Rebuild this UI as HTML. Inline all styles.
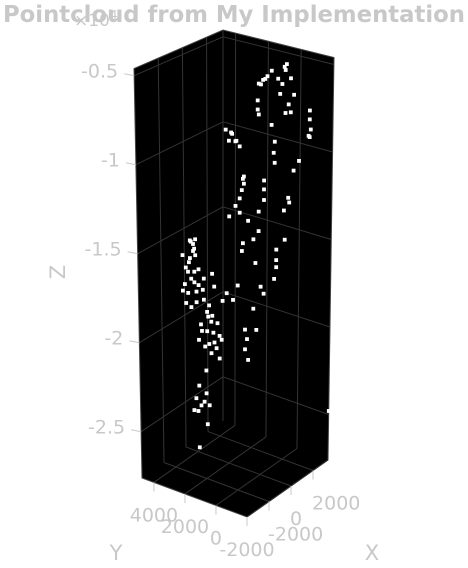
<!DOCTYPE html>
<html><head><meta charset="utf-8"><style>
html,body{margin:0;padding:0;background:#fff;width:468px;height:568px;overflow:hidden}
svg{display:block}
text{font-family:"DejaVu Sans","Liberation Sans",sans-serif;fill:#c8c8c8}
</style></head><body>
<svg id="chart" width="468" height="568" viewBox="0 0 468 568" xmlns="http://www.w3.org/2000/svg">
<text x="74" y="26" font-size="17">×10<tspan font-size="12" dy="-7">4</tspan></text>
<text x="234" y="22" text-anchor="middle" font-size="23" font-weight="bold" textLength="462" lengthAdjust="spacingAndGlyphs">Pointcloud from My Implementation</text>
<g id="box"></g><g id="grid"></g><g id="pts"></g><g id="axes"></g>
<text x="372" y="560" text-anchor="middle" font-size="21">X</text>
<text x="116" y="560" text-anchor="middle" font-size="21">Y</text>
<text x="0" y="0" text-anchor="middle" font-size="21" transform="translate(65,272) rotate(-90)">Z</text>
</svg>
<script>
const xTicks=[-2000,0,2000];
const yTicks=[-2000,0,2000,4000];
const zTicks=[-0.5,-1,-1.5,-2,-2.5];
const zTickLabels=["-0.5","-1","-1.5","-2","-2.5"];
const xLim=[-4000,3360], yLim=[-2000,4770], zLim=[-2.76,-0.46];
// point cloud data
const ptX=[-818,-727,-1909,-2273,-2636,-3000,-1364,-1000,-273,0,-455,-1182,-727,-273,-3091,-3091,-3000,1363,1363,1454,1363,-1909,1272,3363,-636,-2455,-2818,
-2091,-2727,-2455,-1818,-3000,1091,1182,1182,-1455,273,273,-1636,-1818,-2182,2364,2455,2000,-182,273,-2727,-1091,-182,-1545,1364,2091,1364,1364,-1636,-455,1182,0,273,-636,-1364,-364,-1182,-1364,-1091,-2000,3273,2818,-1455,-1818,-636,-2545,-2182,-1545,
-1500,-1682,-1500,-1955,-2318,-1227,-1864,-2409,-1227,-45,136,-2136,-773,-2318,-1864,-318,864,-45,-1045,-136,409,-500,591,-1227,-318,318,591,-136,-591,-1227,-591,-1500,-1045,-318,-1318,-500,-2591,1773,1227,-1227,-1864,-1591,-2045,-1591,-773,-1409,-500,-955,136,
-1955,-1682,-2136,-1591,-2591,-1409,-864,-409,45,-682,773,-773,-1682];
const ptY=[-2000,-2000,-2000,-2000,-2000,-2000,-2000,-2000,-2000,-2000,-2000,-2000,-2000,-2000,-2000,-2000,-2000,-2000,-2000,-2000,-2000,-2000,-2000,-2000,-2000,-2000,-2000,
0,0,0,0,0,0,0,0,0,0,0,0,0,0,0,0,0,0,0,0,0,0,0,0,0,0,0,0,0,0,0,0,0,0,0,0,0,0,0,0,0,0,0,0,0,0,0,
3000,3000,3000,3000,3000,3000,3000,3000,3000,3000,3000,3000,3000,3000,3000,3000,3000,3000,3000,3000,3000,3000,3000,3000,3000,3000,3000,3000,3000,3000,3000,3000,3000,3000,3000,3000,3000,3000,3000,3000,3000,3000,3000,3000,3000,3000,3000,3000,3000,
3000,3000,3000,3000,3000,3000,3000,3000,3000,3000,3000,3000,3000];
const ptZ=[-0.39,-0.41,-0.38,-0.40,-0.41,-0.42,-0.44,-0.48,-0.47,-0.57,-0.61,-0.53,-0.65,-0.66,-0.51,-0.56,-0.59,-0.70,-0.75,-0.81,-0.85,-0.68,-0.84,-2.48,-0.38,-0.41,-0.43,
-0.81,-0.79,-0.76,-0.85,-0.72,-0.98,-1.04,-0.92,-1.03,-1.11,-1.16,-1.10,-1.14,-1.17,-1.28,-1.31,-1.34,-1.27,-1.22,-1.21,-1.29,-1.38,-1.40,-1.54,-1.51,-1.60,-1.64,-1.44,-1.55,-1.70,-1.70,-1.75,-1.80,-1.89,-1.93,-1.95,-2.00,-2.07,-1.62,-1.10,-1.14,-1.07,-1.22,-1.41,-0.75,-0.81,-1.04,
-1.46,-1.48,-1.55,-1.55,-1.59,-1.64,-1.67,-1.68,-1.73,-1.71,-1.79,-1.74,-1.83,-1.79,-1.83,-1.88,-1.90,-1.95,-1.96,-1.98,-2.01,-2.02,-2.09,-2.04,-2.10,-2.15,-2.22,-2.16,-2.24,-2.30,-2.37,-2.36,-2.42,-2.45,-2.44,-2.55,-1.51,-1.93,-1.87,-2.65,-1.46,-1.51,-1.57,-1.64,-1.71,-1.76,-1.91,-2.00,-2.11,
-1.45,-1.52,-1.62,-1.70,-1.71,-1.82,-1.77,-1.94,-2.05,-2.10,-2.12,-2.41,-2.42];
const NS="http://www.w3.org/2000/svg";
function proj(X,Y,Z){
  const xn=(X-xLim[0])/(xLim[1]-xLim[0]), yn=(Y-yLim[0])/(yLim[1]-yLim[0]);
  const t=(Z-zLim[0])/(zLim[1]-zLim[0]);
  const s=170+8*(1-xn)+5*(1-yn);
  const u=247+0.011005*(X-xLim[0])-0.01551*(Y-yLim[0]) + t*(-8*(1-xn)*yn+6*xn*(1-yn));
  const v=517-0.007745*(X-xLim[0])-0.00576*(Y-yLim[0])-s*(Z-zLim[0]);
  return [u,v];
}
function mk(tag,attrs,parent){const e=document.createElementNS(NS,tag);for(const k in attrs)e.setAttribute(k,attrs[k]);parent.appendChild(e);return e;}
const box=document.getElementById('box'),grid=document.getElementById('grid'),pts=document.getElementById('pts'),axes=document.getElementById('axes');
const [x0,x1]=xLim,[y0,y1]=yLim,[z0,z1]=zLim;
const sil=[[x0,y0,z0],[x1,y0,z0],[x1,y0,z1],[x1,y1,z1],[x0,y1,z1],[x0,y1,z0]].map(c=>proj(...c).map(n=>n.toFixed(1)).join(',')).join(' ');
const poly=mk('polygon',{points:sil,fill:'#000',stroke:'#444','stroke-width':'1'},box);


function line(a,b,col,parent,name){const p=proj(...a),q=proj(...b);const l=mk('line',{x1:p[0],y1:p[1],x2:q[0],y2:q[1],stroke:col,'stroke-width':'1'},parent);


return l;}
xTicks.forEach(x=>{line([x,y1,z0],[x,y1,z1],'#333',grid,'grid-line-x');line([x,y0,z0],[x,y1,z0],'#333',grid,'grid-line-x');});
yTicks.forEach(y=>{if(y>y0){line([x1,y,z0],[x1,y,z1],'#333',grid,'grid-line-y');}line([x0,y,z0],[x1,y,z0],'#333',grid,'grid-line-y');});
zTicks.forEach(z=>{line([x0,y1,z],[x1,y1,z],'#333',grid,'grid-line-z');line([x1,y0,z],[x1,y1,z],'#333',grid,'grid-line-z');});
line([x1,y1,z0],[x1,y1,z1],'#333',grid,'back-edge');
for(let i=0;i<ptX.length;i++){const p=proj(ptX[i],ptY[i],ptZ[i]);
  const r=mk('rect',{x:(p[0]-1.9).toFixed(1),y:(p[1]-1.9).toFixed(1),width:3.8,height:3.8,fill:'#fff'},pts);
  
  
}
xTicks.forEach(x=>{const p=proj(x,y0,z0);
  const l=mk('line',{x1:p[0],y1:p[1],x2:p[0],y2:p[1]+9,stroke:'#c8c8c8'},axes);
  
  
  const t=mk('text',{x:p[0]-1,y:p[1]+39,'font-size':'19'},axes);t.textContent=String(x);
  
  
});
yTicks.forEach(y=>{const p=proj(x0,y,z0);
  const l=mk('line',{x1:p[0],y1:p[1],x2:p[0],y2:p[1]+9,stroke:'#c8c8c8'},axes);
  
  
  const t=mk('text',{x:p[0],y:p[1]+39,'font-size':'19','text-anchor':'middle'},axes);t.textContent=String(y);
  
  
});
zTicks.forEach((z,i)=>{const p=proj(x0,y1,z);
  const l=mk('line',{x1:p[0]-10,y1:p[1]-2,x2:p[0],y2:p[1],stroke:'#c8c8c8'},axes);
  
  
  const t=mk('text',{x:p[0]-16,y:p[1]+2,'font-size':'19','text-anchor':'end'},axes);t.textContent=zTickLabels[i];
  
  
});
</script>
</body></html>
